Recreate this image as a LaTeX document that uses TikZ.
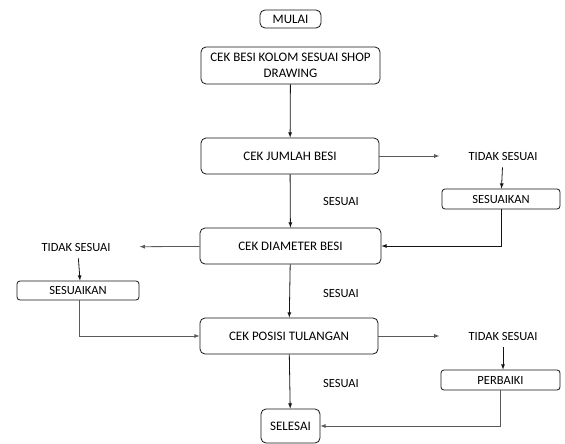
\documentclass[tikz,border=0pt]{standalone}
\usepackage{fontspec}
\setmainfont{Carlito}
\usetikzlibrary{arrows}
\definecolor{lineblack}{RGB}{20, 20, 20}
\definecolor{linegray}{RGB}{90, 90, 90}
\tikzset{
    stepbox/.style={draw=lineblack, line width=0.8pt, rounded corners=5pt, align=center, inner sep=1pt,
                    font=\fontsize{13}{16}\selectfont},
    smallbox/.style={draw=lineblack, line width=0.8pt, rounded corners=3pt, inner sep=1pt,
                     font=\fontsize{12.5}{14}\selectfont},
    plaintext/.style={inner sep=1pt, font=\fontsize{12.5}{14}\selectfont},
    arr/.style={-latex, lineblack, line width=0.8pt},
    grayarr/.style={-latex, linegray, line width=0.8pt}
}
\begin{document}
\begin{tikzpicture}[x=1pt, y=-1pt]
            \useasboundingbox (0,0) rectangle (565,444);
            \node[stepbox, minimum width=61pt,  minimum height=18pt] (mulai)    at (290.5, 19.0) {MULAI};
            \node[stepbox, minimum width=179pt, minimum height=37pt] (kolom)    at (290.5, 65.5) {CEK BESI KOLOM SESUAI SHOP\\DRAWING};
            \node[stepbox, minimum width=178pt, minimum height=36pt] (jumlah)   at (290.0, 156.0) {CEK JUMLAH BESI};
            \node[stepbox, minimum width=181pt, minimum height=36pt] (diameter) at (290.5, 246.0) {CEK DIAMETER BESI};
            \node[stepbox, minimum width=178pt, minimum height=36pt] (posisi)   at (289.0, 336.0) {CEK POSISI TULANGAN};
            \node[stepbox, minimum width=59pt,  minimum height=34pt] (selesai)  at (290.5, 426.0) {SELESAI};
            \node[plaintext] (tidakA) at (503, 156) {TIDAK SESUAI};
            \node[plaintext] (tidakB) at (76, 247)  {TIDAK SESUAI};
            \node[plaintext] (tidakC) at (503, 336) {TIDAK SESUAI};
            \node[smallbox, minimum width=118pt, minimum height=20pt] (sesuaikanA) at (501, 199) {SESUAIKAN};
            \node[smallbox, minimum width=122pt, minimum height=19pt] (sesuaikanB) at (78, 290.5) {SESUAIKAN};
            \node[smallbox, minimum width=119pt, minimum height=20pt] (perbaiki)   at (500.5, 380) {PERBAIKI};
            \node[plaintext] (okA) at (341, 201) {SESUAI};
            \node[plaintext] (okB) at (341, 293) {SESUAI};
            \node[plaintext] (okC) at (341, 383) {SESUAI};
            \draw[arr] (kolom) -- (jumlah);
            \draw[arr] (jumlah) -- (diameter);
            \draw[arr] (diameter) -- (posisi);
            \draw[arr] (posisi) -- (selesai);
            \draw[grayarr, shorten >=28pt] (jumlah) -- (tidakA);
            \draw[grayarr, shorten >=28pt] (diameter) -- (tidakB);
            \draw[grayarr, shorten >=28pt] (posisi) -- (tidakC);
            \draw[arr, shorten <=6pt] (tidakA) -- (sesuaikanA);
            \draw[arr, shorten <=6pt] ([xshift=2pt]tidakB.south) -- ([xshift=2pt]sesuaikanB.north);
            \draw[arr, shorten <=6pt] (tidakC) -- (tidakC |- perbaiki.north);
            \draw[arr] (sesuaikanA.south) |- (diameter.east);
            \draw[grayarr] ([xshift=1pt]sesuaikanB.south) |- (posisi.west);
            \draw[grayarr] (perbaiki.south) |- (selesai.east);
        \end{tikzpicture}
\end{document}
